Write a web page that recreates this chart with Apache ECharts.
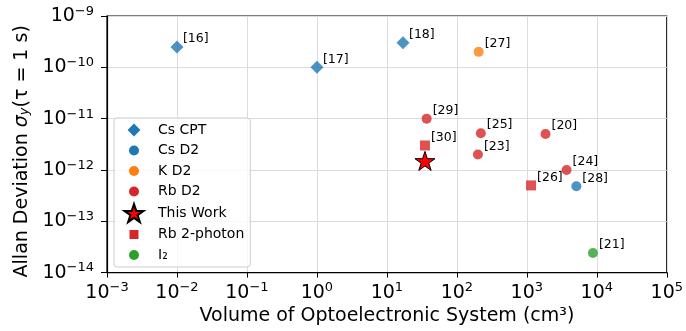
<!DOCTYPE html>
<html><head><meta charset="utf-8">
<script src="https://cdn.jsdelivr.net/npm/echarts@6/dist/echarts.min.js"></script>
<style>html,body{margin:0;padding:0;background:#fff}#c{width:686px;height:331px}</style>
</head><body><div id="c"></div>
<script>
// ---- data ----
const seriesNames = ['Cs CPT', 'Cs D2', 'K D2', 'Rb D2', 'This Work', 'Rb 2-photon', 'I₂'];
const csCptX = [0.01, 1, 17];
const csCptY = [2.5e-10, 1e-10, 3e-10];
const csCptRefs = ['[16]', '[17]', '[18]'];
const csD2X = [5100];
const csD2Y = [4.8e-13];
const csD2Refs = ['[28]'];
const kD2X = [205];
const kD2Y = [2e-10];
const kD2Refs = ['[27]'];
const rbD2X = [37, 220, 1850, 200, 3700];
const rbD2Y = [1e-11, 5.2e-12, 5e-12, 2e-12, 1e-12];
const rbD2Refs = ['[29]', '[25]', '[20]', '[23]', '[24]'];
const thisWorkX = [35];
const thisWorkY = [1.5e-12];
const rb2pX = [35, 1150];
const rb2pY = [3e-12, 5e-13];
const rb2pRefs = ['[30]', '[26]'];
const i2X = [8800];
const i2Y = [2.4e-14];
const i2Refs = ['[21]'];
const xMin = 1e-3, xMax = 1e5, yMin = 1e-14, yMax = 1e-9;

// ---- styling ----
const FONT = 'DejaVu Sans';
const BLUE = '#1f77b4', ORANGE = '#ff7f0e', RED = '#d62728', GREEN = '#2ca02c';
function alpha(hex, a) {
  const n = parseInt(hex.slice(1), 16);
  return 'rgba(' + (n >> 16) + ',' + ((n >> 8) & 255) + ',' + (n & 255) + ',' + a + ')';
}
const STAR = 'M10,1 L12.25,7.91 L19.51,7.91 L13.63,12.18 L15.88,19.09 L10,14.82 L4.12,19.09 L6.37,12.18 L0.49,7.91 L7.75,7.91 Z';
const PAD = 'M0,0 M20,20 ';
const legendIcons = {
  diamond: 'path://' + PAD + 'M10,3.4 L16.4,10 L10,16.6 L3.6,10 Z',
  circle: 'path://' + PAD + 'M5,10 A5,5 0 1 1 15,10 A5,5 0 1 1 5,10 Z',
  square: 'path://' + PAD + 'M5.5,5.5 L14.5,5.5 L14.5,14.5 L5.5,14.5 Z',
  star: 'path://' + PAD + STAR
};

function zipData(xs, ys, refs) {
  return xs.map((x, i) => [x, ys[i], refs ? refs[i] : '']);
}
const labelCfg = {
  show: true,
  formatter: p => p.data[2],
  position: 'inside',
  align: 'left',
  verticalAlign: 'middle',
  offset: [6, -8],
  color: '#000',
  fontFamily: FONT,
  fontSize: 12.5
};
function mk(name, xs, ys, refs, symbol, size, color, extra) {
  return Object.assign({
    name: name,
    type: 'scatter',
    data: zipData(xs, ys, refs),
    symbol: symbol,
    symbolSize: size,
    symbolKeepAspect: true,
    itemStyle: { color: alpha(color, 0.8), opacity: 1 },
    label: labelCfg,
    emphasis: { disabled: true }
  }, extra || {});
}

function powLabel(v) {
  const e = Math.round(Math.log10(v));
  return '{b|10}{s|' + (e < 0 ? '\u2212' : '') + Math.abs(e) + '}';
}
const tickRich = {
  b: { fontFamily: FONT, fontSize: 19, color: '#000', lineHeight: 22 },
  s: { fontFamily: FONT, fontSize: 13, color: '#000', lineHeight: 13, verticalAlign: 'top' }
};

const chart = echarts.init(document.getElementById('c'), null, { renderer: 'canvas' });
chart.setOption({
  animation: false,
  backgroundColor: '#fff',
  grid: { left: 107, right: 18, top: 16, bottom: 58, show: true, borderColor: '#000', borderWidth: 1.2, backgroundColor: 'transparent' },
  xAxis: {
    type: 'log', logBase: 10, min: xMin, max: xMax, splitNumber: 8,
    name: 'Volume of Optoelectronic System (cm³)',
    nameLocation: 'middle', nameGap: 31,
    nameTextStyle: { fontFamily: FONT, fontSize: 19, color: '#000' },
    axisLine: { show: true, lineStyle: { color: '#000', width: 1.2 } },
    axisTick: { show: true, length: 5, lineStyle: { color: '#000' } },
    minorTick: { show: false },
    axisLabel: { formatter: powLabel, rich: tickRich, margin: 9 },
    splitLine: { show: true, lineStyle: { color: '#dcdcdc', width: 1 } }
  },
  yAxis: {
    type: 'log', logBase: 10, min: yMin, max: yMax, splitNumber: 5,
    name: 'Allan Deviation {i|σ}{sub|y}(τ = 1 s)',
    nameLocation: 'middle', nameGap: 70, nameRotate: 90,
    nameTextStyle: {
      fontFamily: FONT, fontSize: 19, color: '#000', padding: [0, 14, 0, 0],
      rich: {
        i: { fontFamily: FONT, fontSize: 19, fontStyle: 'italic', color: '#000' },
        sub: { fontFamily: FONT, fontSize: 13, fontStyle: 'italic', color: '#000', verticalAlign: 'bottom', lineHeight: 13 }
      }
    },
    axisLine: { show: true, lineStyle: { color: '#000', width: 1.2 } },
    axisTick: { show: true, length: 6, lineStyle: { color: '#000' } },
    minorTick: { show: false },
    axisLabel: { formatter: powLabel, rich: tickRich, margin: 13 },
    splitLine: { show: true, lineStyle: { color: '#dcdcdc', width: 1 } }
  },
  legend: {
    orient: 'vertical', left: 114, top: 118,
    itemWidth: 20, itemHeight: 20, itemGap: 0.5,
    padding: [2, 6, 2, 9],
    backgroundColor: 'rgba(255,255,255,0.8)',
    borderColor: '#cccccc', borderWidth: 1, borderRadius: 3,
    textStyle: { fontFamily: FONT, fontSize: 14, color: '#000', padding: [0, 0, 0, 9] },
    selectedMode: false,
    data: [
      { name: seriesNames[0], icon: legendIcons.diamond, itemStyle: { color: BLUE, opacity: 1 } },
      { name: seriesNames[1], icon: legendIcons.circle, itemStyle: { color: BLUE, opacity: 1 } },
      { name: seriesNames[2], icon: legendIcons.circle, itemStyle: { color: ORANGE, opacity: 1 } },
      { name: seriesNames[3], icon: legendIcons.circle, itemStyle: { color: RED, opacity: 1 } },
      { name: seriesNames[4], icon: legendIcons.star, itemStyle: { opacity: 1 } },
      { name: seriesNames[5], icon: legendIcons.square, itemStyle: { color: RED, opacity: 1 } },
      { name: seriesNames[6], icon: legendIcons.circle, itemStyle: { color: GREEN, opacity: 1 } }
    ]
  },
  series: [
    mk(seriesNames[0], csCptX, csCptY, csCptRefs, 'diamond', 13, BLUE),
    mk(seriesNames[1], csD2X, csD2Y, csD2Refs, 'circle', 10, BLUE),
    mk(seriesNames[2], kD2X, kD2Y, kD2Refs, 'circle', 10, ORANGE),
    mk(seriesNames[3], rbD2X, rbD2Y, rbD2Refs, 'circle', 10, RED),
    mk(seriesNames[4], thisWorkX, thisWorkY, null, 'path://' + STAR, 20, '#ff0000', {
      itemStyle: { color: '#ff0000', borderColor: '#000', borderWidth: 1, opacity: 1 },
      label: { show: false }, z: 5
    }),
    mk(seriesNames[5], rb2pX, rb2pY, rb2pRefs, 'rect', 10, RED),
    mk(seriesNames[6], i2X, i2Y, i2Refs, 'circle', 10, GREEN)
  ]
});
</script>
</body></html>
